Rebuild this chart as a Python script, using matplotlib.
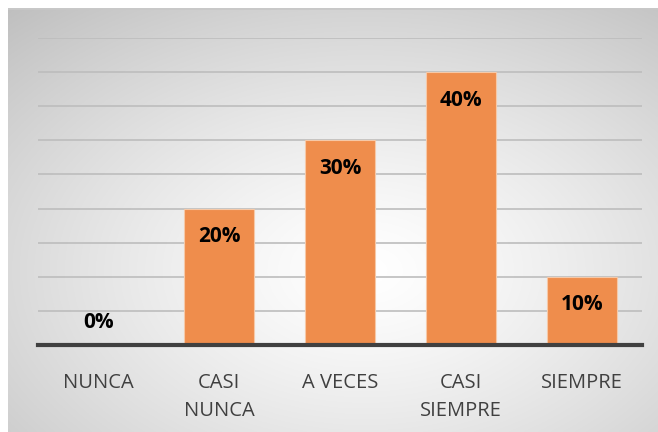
import numpy as np
import matplotlib.pyplot as plt
from matplotlib.ticker import MultipleLocator

categorias = ['NUNCA', 'CASI\nNUNCA', 'A VECES', 'CASI\nSIEMPRE', 'SIEMPRE']
porcentajes = [0, 20, 30, 40, 10]
etiquetas = ['0%', '20%', '30%', '40%', '10%']

W, H = 658, 432
fig = plt.figure(figsize=(W / 100, H / 100), dpi=100)
fig.patch.set_facecolor('white')

# Fondo con degradado radial
bg = fig.add_axes([8 / W, 0, (W - 8) / W, (H - 8) / H])
yy, xx = np.mgrid[0:1:300j, 0:1:450j]
d = np.sqrt(((xx - 0.55) / 0.75) ** 2 + ((yy - 0.62) / 0.75) ** 2)
grad = np.clip(1.0 - 0.22 * d ** 1.3, 0.74, 1.0)
bg.imshow(np.dstack([grad] * 3), extent=[0, 1, 0, 1], aspect='auto', origin='upper')
bg.axhline(1, color='#c8c8c8', lw=2)
bg.set_axis_off()

# Área del gráfico
x0, x1 = 38, 642
y_top, y_base = 38, 345
ax = fig.add_axes([x0 / W, (H - y_base) / H, (x1 - x0) / W, (y_base - y_top) / H])
ax.patch.set_alpha(0)

x = np.arange(len(categorias))
ax.bar(x, porcentajes, width=0.58, color='#ef8d4c', edgecolor='#f6c9a8', linewidth=0.8, zorder=3)

ax.set_ylim(0, 45)
ax.set_xlim(-0.5, len(categorias) - 0.5)
ax.yaxis.set_major_locator(MultipleLocator(5))
ax.grid(axis='y', color='#bdbdbd', linewidth=1.2, zorder=0)
ax.set_yticklabels([])
ax.tick_params(axis='y', length=0)
ax.tick_params(axis='x', length=0, pad=20)

for s in ['top', 'right', 'left']:
    ax.spines[s].set_visible(False)
ax.spines['bottom'].set_color('#404040')
ax.spines['bottom'].set_linewidth(3)
ax.spines['bottom'].set_zorder(4)

ax.set_xticks(x)
ax.set_xticklabels(categorias, fontsize=14.5, color='#404040', family='Open Sans',
                   linespacing=1.55, va='top')

for xi, v, t in zip(x, porcentajes, etiquetas):
    off = -28 if v > 0 else 23
    ax.annotate(t, (xi, v), xytext=(0, off), textcoords='offset pixels',
                ha='center', va='center', fontsize=15, fontweight='bold',
                color='black', family='Open Sans', zorder=5)

fig.savefig('out.png', dpi=100)
